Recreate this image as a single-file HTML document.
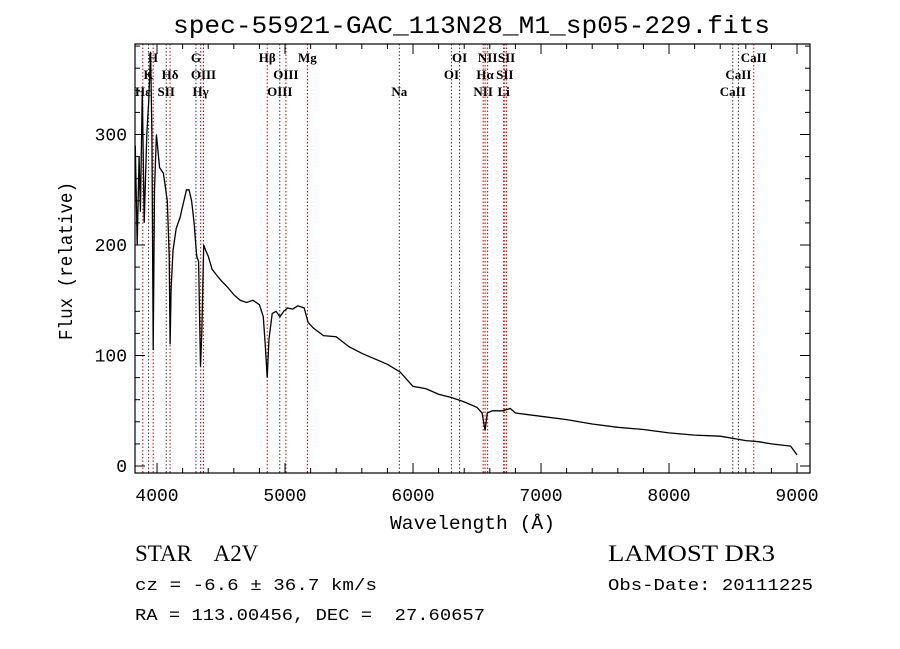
<!DOCTYPE html>
<html><head><meta charset="utf-8"><style>
body{margin:0;background:#fff;}
svg{display:block;}
</style></head><body>
<svg id="chart" width="900" height="649" xmlns="http://www.w3.org/2000/svg">
<rect width="900" height="649" fill="#fff"/>
<text x="173" y="33" textLength="597" lengthAdjust="spacingAndGlyphs" font-family="Liberation Mono, monospace" font-size="25">spec-55921-GAC_113N28_M1_sp05-229.fits</text>
<g id="lines"></g>
<g id="ticks"></g>
<path id="spec" fill="none" stroke="#000" stroke-width="1.3"/>
<rect x="135" y="44" width="675" height="429" fill="none" stroke="#000" stroke-width="1.2"/>
<text x="390" y="529" textLength="165" lengthAdjust="spacingAndGlyphs" font-family="Liberation Mono, monospace" font-size="19">Wavelength (Å)</text>
<text transform="translate(72,340) rotate(-90)" textLength="158" lengthAdjust="spacingAndGlyphs" font-family="Liberation Mono, monospace" font-size="19">Flux (relative)</text>
<text x="135" y="561" font-family="Liberation Serif, serif" font-size="23" xml:space="preserve">STAR    A2V</text>
<text x="608" y="561" textLength="167" lengthAdjust="spacingAndGlyphs" font-family="Liberation Serif, serif" font-size="23">LAMOST DR3</text>
<text x="135" y="590" textLength="242" lengthAdjust="spacingAndGlyphs" font-family="Liberation Mono, monospace" font-size="17" xml:space="preserve">cz = -6.6 ± 36.7 km/s</text>
<text x="608" y="590" textLength="205" lengthAdjust="spacingAndGlyphs" font-family="Liberation Mono, monospace" font-size="17">Obs-Date: 20111225</text>
<text x="135" y="620" textLength="350" lengthAdjust="spacingAndGlyphs" font-family="Liberation Mono, monospace" font-size="17" xml:space="preserve">RA = 113.00456, DEC =  27.60657</text>
</svg>
<script>
const wavelengths=[3830,3845,3860,3870,3885,3900,3920,3935,3950,3960,3970,3980,3995,4020,4050,4080,4095,4102,4110,4125,4150,4180,4200,4230,4250,4270,4290,4310,4325,4340,4350,4365,4380,4400,4430,4470,4500,4550,4600,4650,4700,4750,4800,4830,4845,4861,4875,4900,4930,4960,4990,5020,5060,5100,5150,5180,5220,5300,5400,5500,5600,5700,5800,5900,6000,6100,6200,6300,6400,6500,6540,6563,6580,6620,6700,6760,6800,7000,7200,7400,7600,7800,8000,8200,8400,8500,8600,8700,8800,8950,9000];
const fluxes=[290,200,280,230,340,220,300,330,375,300,105,250,300,270,265,240,190,110,160,195,215,225,235,250,250,240,220,190,185,90,120,200,195,190,178,172,168,162,155,150,148,150,146,135,110,80,115,138,140,135,140,143,142,145,143,130,125,118,117,108,102,97,92,85,72,70,65,62,58,53,48,32,48,50,50,52,48,45,42,38,35,33,30,28,27,25,23,22,20,18,10];
const lineWaves=[3889,3934,3970,4072,4102,4304,4341,4363,4861,4959,5007,5175,5893,6300,6364,6548,6563,6583,6708,6717,6731,8498,8542,8662];
const lineRed=[1,0,1,0,1,0,1,1,1,0,1,1,0,0,0,1,1,1,1,1,1,0,0,1];
const labelTexts=["H","K","Hε","Hδ","SII","G","OIII","Hγ","Hβ","OIII","OIII","Mg","Na","OI","OI","NII","Hα","NII","SII","SII","Li","CaII","CaII","CaII"];
const labelWaves=[3968,3934,3889,4102,4072,4304,4363,4341,4861,5007,4959,5175,5893,6364,6300,6583,6563,6548,6731,6717,6708,8662,8542,8498];
const labelRows=[0,1,2,1,2,0,1,2,0,1,2,0,2,0,1,0,1,2,0,1,2,0,1,2];
const xTicks=[4000,5000,6000,7000,8000,9000];
const yTicks=[0,100,200,300];
const X=w=>135+(w-3828)*0.128;
const Y=f=>466-f*1.105;
const NS='http://www.w3.org/2000/svg';
let d='';
wavelengths.forEach((w,i)=>{d+=(i?'L':'M')+X(w).toFixed(1)+' '+Y(fluxes[i]).toFixed(1);});
document.getElementById('spec').setAttribute('d',d);
const lg=document.getElementById('lines');
lineWaves.forEach((w,i)=>{
 const l=document.createElementNS(NS,'line');
 
 
 l.setAttribute('x1',X(w));l.setAttribute('x2',X(w));l.setAttribute('y1',44);l.setAttribute('y2',473);
 l.setAttribute('stroke',lineRed[i]?'#c00':'#333');l.setAttribute('stroke-width','1');l.setAttribute('stroke-dasharray','1.5,2');
 lg.appendChild(l);
});
labelTexts.forEach((t,i)=>{
 const tx=document.createElementNS(NS,'text');
 
 
 tx.setAttribute('x',X(labelWaves[i]));tx.setAttribute('y',62+labelRows[i]*17);
 tx.setAttribute('text-anchor','middle');tx.setAttribute('font-family','Liberation Serif, serif');tx.setAttribute('font-size','13');tx.setAttribute('font-weight','bold');
 tx.textContent=t;lg.appendChild(tx);
});
const tg=document.getElementById('ticks');
function ln(x1,y1,x2,y2){const l=document.createElementNS(NS,'line');
 
 
 l.setAttribute('x1',x1);l.setAttribute('y1',y1);l.setAttribute('x2',x2);l.setAttribute('y2',y2);l.setAttribute('stroke','#000');tg.appendChild(l);}
for(let w=4000;w<=9000;w+=200){const major=w%1000===0;const L=major?10:5;ln(X(w),473,X(w),473-L);ln(X(w),44,X(w),44+L);}
for(let f=0;f<=380;f+=20){const major=f%100===0;const L=major?10:5;ln(135,Y(f),135+L,Y(f));ln(810,Y(f),810-L,Y(f));}
xTicks.forEach(w=>{const t=document.createElementNS(NS,'text');
 
 
 t.setAttribute('x',X(w));t.setAttribute('y',501);t.setAttribute('text-anchor','middle');t.setAttribute('font-family','Liberation Mono, monospace');t.setAttribute('font-size','18');t.textContent=w;tg.appendChild(t);});
yTicks.forEach(f=>{const t=document.createElementNS(NS,'text');
 
 
 t.setAttribute('x',127);t.setAttribute('y',Y(f)+6);t.setAttribute('text-anchor','end');t.setAttribute('font-family','Liberation Mono, monospace');t.setAttribute('font-size','18');t.textContent=f;tg.appendChild(t);});
</script>
</body></html>
